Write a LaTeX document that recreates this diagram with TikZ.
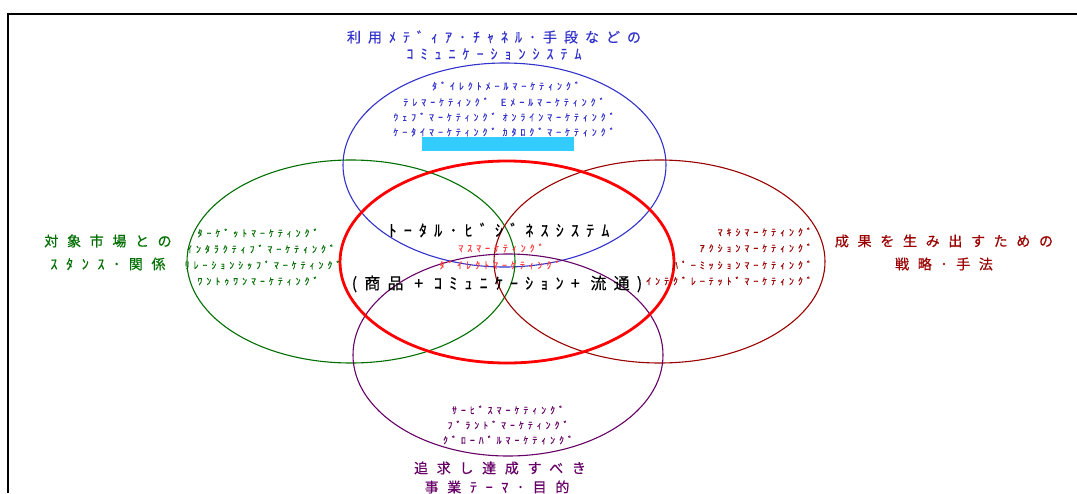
\documentclass[tikz,border=0pt]{standalone}
\usepackage{fontspec}
\newfontfamily\jpS[LetterSpace=42,FakeBold=0.6]{Noto Sans CJK JP}
\newfontfamily\jpT[LetterSpace=45,FakeBold=0.5]{Noto Sans CJK JP}
\newfontfamily\jpU[LetterSpace=50,FakeBold=0.5]{Noto Sans CJK JP}
\newfontfamily\jpW[LetterSpace=62,FakeBold=0.5]{Noto Sans CJK JP}
\definecolor{cblue}{RGB}{51,51,204}
\definecolor{cgreen}{RGB}{0,110,0}
\definecolor{cdred}{RGB}{153,0,0}
\definecolor{cpurple}{RGB}{102,0,102}
\definecolor{cred}{RGB}{255,0,0}
\definecolor{clred}{RGB}{255,60,60}
\definecolor{ccyan}{RGB}{51,204,255}
\tikzset{
  ring/.style={line width=1.1pt},
  item/.style={inner sep=0pt, font=\jpS\fontsize{9.7}{10}\selectfont},
  title/.style={inner sep=0pt, font=\jpW\fontsize{14}{16}\selectfont},
  centre/.style={inner sep=0pt, font=\jpT\fontsize{16}{18}\selectfont},
}
\begin{document}
\begin{tikzpicture}[x=1pt,y=-1pt]
\useasboundingbox (0,0) rectangle (1077,493);
% frame
\draw[line width=2pt] (8,493) -- (8,14) -- (1077,14);
% ellipses
\draw[ring,cblue] (504.5,165) ellipse [x radius=161.5, y radius=102];
\draw[ring,cgreen] (351,261.5) ellipse [x radius=164, y radius=101.5];
\draw[ring,cdred] (659.5,261.5) ellipse [x radius=165.5, y radius=101.5];
\draw[ring,cpurple] (508,355) ellipse [x radius=155, y radius=101];
\draw[line width=2.8pt,cred] (507,262) ellipse [x radius=167, y radius=101];
% top (blue)
\node[title,cblue,font=\jpU\fontsize{14}{16}\selectfont] (t1) at (494,37) {利用ﾒﾃﾞｨｱ･ﾁｬﾈﾙ･手段などの};
\node[title,cblue,font=\jpU\fontsize{14}{16}\selectfont] (t2) at (494,54) {ｺﾐｭﾆｹｰｼｮﾝｼｽﾃﾑ};
\node[item,cblue] (b1) at (506,86) {ﾀﾞｲﾚｸﾄﾒｰﾙﾏｰｹﾃｨﾝｸﾞ};
\node[item,cblue] (b2) at (504,102) {ﾃﾚﾏｰｹﾃｨﾝｸﾞ\hspace{12pt}Eﾒｰﾙﾏｰｹﾃｨﾝｸﾞ};
\node[item,cblue] (b3) at (504,117) {ｳｪﾌﾞﾏｰｹﾃｨﾝｸﾞ ｵﾝﾗｲﾝﾏｰｹﾃｨﾝｸﾞ};
\node[item,cblue] (b4) at (504,132) {ｹｰﾀｲﾏｰｹﾃｨﾝｸﾞ ｶﾀﾛｸﾞﾏｰｹﾃｨﾝｸﾞ};
\fill[ccyan] (422,137) rectangle (574,151);
% left (green)
\node[title,cgreen] (l1) at (108,241) {対象市場との};
\node[title,cgreen] (l2) at (108,264) {ｽﾀﾝｽ･関係};
\node[item,cgreen] (g1) at (258,233) {ﾀｰｹﾞｯﾄﾏｰｹﾃｨﾝｸﾞ};
\node[item,cgreen] (g2) at (261,249) {ｲﾝﾀﾗｸﾃｨﾌﾞﾏｰｹﾃｨﾝｸﾞ};
\node[item,cgreen] (g3) at (263,265) {ﾘﾚｰｼｮﾝｼｯﾌﾟﾏｰｹﾃｨﾝｸﾞ};
\node[item,cgreen] (g4) at (258,281) {ﾜﾝﾄｩﾜﾝﾏｰｹﾃｨﾝｸﾞ};
% right (dark red)
\node[title,cdred] (r1) at (944,241) {成果を生み出すための};
\node[title,cdred] (r2) at (944,264) {戦略･手法};
\node[item,cdred,anchor=east] (d1) at (812,232) {ﾏｷｼﾏｰｹﾃｨﾝｸﾞ};
\node[item,cdred,anchor=east] (d2) at (812,248) {ｱｸｼｮﾝﾏｰｹﾃｨﾝｸﾞ};
\node[item,cdred,anchor=east] (d3) at (812,265) {ﾊﾟｰﾐｯｼｮﾝﾏｰｹﾃｨﾝｸﾞ};
\node[item,cdred,anchor=east] (d4) at (812,281) {ｲﾝﾃｸﾞﾚｰﾃｯﾄﾞﾏｰｹﾃｨﾝｸﾞ};
% centre
\node[centre] (c1) at (499,230) {ﾄｰﾀﾙ･ﾋﾞｼﾞﾈｽｼｽﾃﾑ};
\node[item,clred] (c2) at (501,248) {ﾏｽﾏｰｹﾃｨﾝｸﾞ};
\node[item,clred] (c3) at (500,265) {ﾀﾞｲﾚｸﾄﾏｰｹﾃｨﾝｸﾞ};
\node[centre] (c4) at (497,284) {(商品 + ｺﾐｭﾆｹｰｼｮﾝ+ 流通)};
% bottom (purple)
\node[item,cpurple] (p1) at (508,410) {ｻｰﾋﾞｽﾏｰｹﾃｨﾝｸﾞ};
\node[item,cpurple] (p2) at (508,425) {ﾌﾞﾗﾝﾄﾞﾏｰｹﾃｨﾝｸﾞ};
\node[item,cpurple] (p3) at (508,440) {ｸﾞﾛｰﾊﾞﾙﾏｰｹﾃｨﾝｸﾞ};
\node[title,cpurple] (q1) at (500,468) {追求し達成すべき};
\node[title,cpurple] (q2) at (497,487) {事業ﾃｰﾏ･目的};
\end{tikzpicture}
\end{document}
